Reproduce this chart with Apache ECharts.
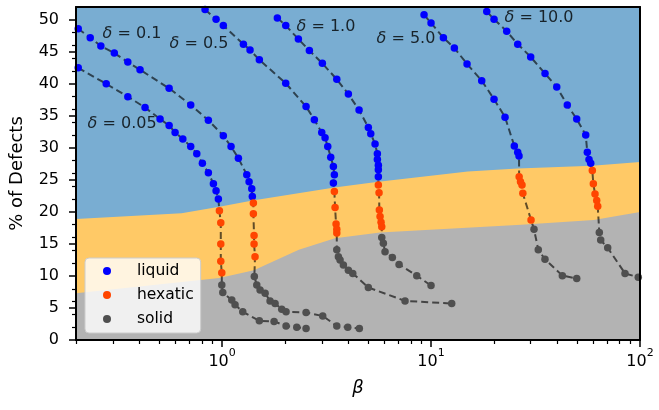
<!DOCTYPE html>
<html><head><meta charset="utf-8">
<script src="https://cdn.jsdelivr.net/npm/echarts@6/dist/echarts.min.js"></script>
<style>html,body{margin:0;padding:0;background:#fff}#c{width:659px;height:410px}</style>
</head><body><div id="c"></div>
<script>
// ---------- axis ranges and ticks ----------
const X_MIN = 0.2, X_MAX = 100, Y_MIN = 0, Y_MAX = 52;
const xMajorTicks = [1, 10, 100];
const xMinorTicks = [0.2,0.3,0.4,0.5,0.6,0.7,0.8,0.9,2,3,4,5,6,7,8,9,20,30,40,50,60,70,80,90];
const yMajorTicks = [0,5,10,15,20,25,30,35,40,45,50];

// ---------- phase-region boundaries  [beta, % of defects] ----------
const hexaticUpper = [[0.2,18.9],[0.64,19.8],[0.97,20.8],[1.4,21.8],[3.45,23.8],[5.6,24.7],[15,26.3],[26,26.8],[59,27.2],[100,27.8]];
const solidUpper   = [[0.2,7.3],[0.97,9.7],[1.42,10.9],[2.33,14.1],[3.47,15.9],[5.7,16.8],[27,18.0],[60,18.75],[100,20.0]];

// ---------- curves  [beta, % of defects] ----------
const liquid_005  = [[0.205,42.5],[0.279,40.0],[0.354,38.0],[0.428,36.3],[0.505,34.5],[0.558,33.5],[0.596,32.4],[0.649,31.4],[0.708,30.2],[0.757,29.1],[0.805,27.6],[0.86,26.1],[0.909,24.4],[0.936,23.3],[0.96,22.0]];
const hexatic_005 = [[0.971,20.2],[0.986,18.3],[0.986,15.0],[0.986,12.3],[0.997,10.5]];
const solid_005   = [[0.997,8.6],[1.008,7.4],[1.113,6.25],[1.154,5.5],[1.256,4.4],[1.508,3.0],[1.774,2.9],[2.024,2.2],[2.278,2.0],[2.523,1.8]];

const liquid_01  = [[0.205,48.6],[0.234,47.2],[0.263,45.9],[0.305,44.8],[0.354,43.4],[0.405,42.2],[0.558,39.3],[0.708,36.7],[0.86,34.3],[1.014,31.9],[1.104,30.2],[1.197,28.4],[1.313,25.8],[1.347,24.7],[1.387,23.6],[1.396,22.4]];
const hexatic_01 = [[1.412,21.4],[1.412,19.7],[1.423,16.3],[1.423,15.0],[1.438,13.0]];
const solid_01   = [[1.427,9.9],[1.466,8.6],[1.52,7.8],[1.607,7.3],[1.697,6.1],[1.793,5.7],[1.93,4.8],[2.024,4.4],[2.523,4.3],[3.032,3.75],[3.54,2.2],[3.995,2.0],[4.539,1.8]];

const liquid_05  = [[0.829,51.6],[0.936,50.1],[1.014,49.1],[1.265,46.2],[1.361,45.3],[1.508,43.75],[2.017,40.1],[2.523,36.45],[2.765,34.4],[2.999,32.4],[3.111,31.6],[3.205,30.2],[3.312,28.55],[3.409,27.1],[3.447,25.8],[3.409,24.5]];
const hexatic_05 = [[3.447,23.2],[3.474,20.7],[3.512,18.1],[3.54,17.3],[3.54,16.7]];
const solid_05   = [[3.54,14.1],[3.603,13.0],[3.67,12.5],[3.806,11.7],[4.022,10.9],[4.222,10.4],[5.012,8.2],[7.509,6.1],[12.56,5.7]];

const liquid_1  = [[1.839,50.3],[2.017,49.1],[2.318,47.0],[2.617,45.2],[3.019,43.2],[3.54,40.7],[4.022,38.4],[4.525,35.9],[5.012,33.2],[5.147,32.2],[5.397,30.6],[5.536,29.1],[5.536,28.2],[5.596,27.3],[5.596,26.6],[5.596,25.5]];
const hexatic_1 = [[5.596,24.2],[5.64,23.0],[5.658,20.3],[5.702,19.3],[5.766,18.4],[5.81,17.7]];
const solid_1   = [[5.81,16.0],[5.914,15.1],[6.025,13.8],[6.53,12.9],[7.03,11.8],[8.544,10.05],[10.0,8.5]];

const liquid_5  = [[9.26,50.8],[10.0,49.5],[11.46,47.2],[12.93,45.6],[14.87,43.1],[17.48,40.5],[20.02,37.6],[22.6,34.8],[25.04,30.3],[25.99,29.3],[26.37,28.75]];
const hexatic_5 = [[26.4,25.5],[26.8,24.7],[27.25,24.2],[27.5,22.9],[30.1,18.75]];
const solid_5   = [[31.1,17.3],[32.6,14.1],[35.1,12.6],[42.5,10.05],[49.8,9.6]];

const liquid_10  = [[18.48,51.3],[20.02,50.1],[23.02,48.2],[25.99,46.2],[29.99,44.2],[35.12,41.6],[39.96,39.5],[44.88,36.7],[49.79,34.5],[54.99,32.0],[55.96,29.3],[57.02,28.2],[58.1,27.6]];
const hexatic_10 = [[59.14,26.45],[59.8,24.4],[60.92,22.8],[62.07,21.8],[62.76,20.9]];
const solid_10   = [[63.87,16.8],[64.86,15.6],[70.05,14.4],[84.76,10.4],[98.1,9.8]];

// ---------- curve annotations ----------
const deltaNames = ['0.05','0.1','0.5','1.0','5.0','10.0'];
const labelBeta  = [0.2285,0.2696,0.5638,2.285,5.515,22.6];
const labelPct   = [33.6,47.8,46.2,48.9,47.0,50.3];

// ---------- build ----------
const curves = [
  [liquid_005, hexatic_005, solid_005],
  [liquid_01, hexatic_01, solid_01],
  [liquid_05, hexatic_05, solid_05],
  [liquid_1, hexatic_1, solid_1],
  [liquid_5, hexatic_5, solid_5],
  [liquid_10, hexatic_10, solid_10]
];
const FONT = 'DejaVu Sans';
const series = [];
series.push({type:'line', name:'_hex', xAxisIndex:0, yAxisIndex:0, data:hexaticUpper, showSymbol:false, symbol:'none',
  lineStyle:{width:0}, areaStyle:{color:'#ffc966', opacity:1, origin:'start'}, z:1, silent:true});
series.push({type:'line', name:'_sol', xAxisIndex:0, yAxisIndex:0, data:solidUpper, showSymbol:false, symbol:'none',
  lineStyle:{width:0}, areaStyle:{color:'#b3b3b3', opacity:1, origin:'start'}, z:1.5, silent:true});
curves.forEach((c, i) => {
  series.push({type:'line', name:'_curve'+i, xAxisIndex:0, yAxisIndex:0, data:[].concat(c[0], c[1], c[2]),
    showSymbol:false, symbol:'none', lineStyle:{color:'#000', opacity:0.62, width:2, type:[7,4]}, z:2, silent:true});
});
const phaseNames = ['liquid','hexatic','solid'];
const phaseColors = ['#0000ff','#ff4500','#4f4f4f'];
phaseNames.forEach((n, k) => {
  series.push({type:'scatter', name:n, xAxisIndex:0, yAxisIndex:0, symbol:'circle', symbolSize:7.5,
    data:[].concat(...curves.map(c => c[k])), itemStyle:{color:phaseColors[k], opacity:1}, z:3});
});
series.push({type:'scatter', name:'_labels', xAxisIndex:0, yAxisIndex:0, symbolSize:1, silent:true, z:6,
  itemStyle:{color:'transparent'},
  data: deltaNames.map((t,i) => ({value:[labelBeta[i], labelPct[i]], name:t})),
  label:{show:true, position:[0,0], align:'left', verticalAlign:'middle', color:'#000', fontSize:16, fontFamily:FONT,
    formatter: p => '{d|δ} = ' + p.name,
    rich:{d:{fontStyle:'italic', fontSize:16, fontFamily:FONT, color:'#000'}}}});

const lg = v => Math.log10(v);
const spine = {show:true, onZero:false, lineStyle:{color:'#000', width:2}};
const option = {
  animation:false,
  textStyle:{fontFamily:FONT},
  grid:{left:76, right:19, top:7, bottom:70, show:true, backgroundColor:'#79add2', borderWidth:0, containLabel:false, outerBoundsMode:'none'},
  legend:{data:phaseNames, orient:'vertical', left:85, top:258, icon:'circle', itemWidth:40, itemHeight:8, itemGap:8,
    padding:[5,7,6,18], backgroundColor:'rgba(255,255,255,0.8)', borderColor:'#cccccc', borderWidth:1, borderRadius:4,
    textStyle:{fontSize:15.5, color:'#000', fontFamily:FONT, padding:[0,0,0,5]}, z:20, selectedMode:false},
  xAxis:[
    {type:'log', logBase:10, min:X_MIN, max:X_MAX, position:'top', z:10,
      axisLine:spine, axisTick:{show:false}, axisLabel:{show:false}, splitLine:{show:false}},
    {type:'value', min:lg(X_MIN), max:lg(X_MAX), position:'bottom', z:10,
      name:'β', nameLocation:'middle', nameGap:39, nameMoveOverlap:false,
      nameTextStyle:{fontSize:18, fontStyle:'italic', color:'#000', fontFamily:FONT},
      axisLine:spine,
      axisTick:{show:true, length:7, lineStyle:{color:'#000', width:1.5}, customValues:xMajorTicks.map(lg)},
      axisLabel:{show:true, margin:8, customValues:xMajorTicks.map(lg), color:'#000',
        formatter: v => '{b|10}{s|' + Math.round(v) + '}',
        rich:{b:{fontSize:16, fontFamily:FONT, color:'#000', lineHeight:22, verticalAlign:'bottom'},
              s:{fontSize:11, fontFamily:FONT, color:'#000', lineHeight:14, verticalAlign:'top'}}},
      splitLine:{show:false}},
    {type:'value', min:lg(X_MIN), max:lg(X_MAX), position:'bottom', z:10,
      axisLine:{show:false, onZero:false},
      axisTick:{show:true, length:4, lineStyle:{color:'#000', width:1.2}, customValues:xMinorTicks.map(lg)},
      axisLabel:{show:false}, splitLine:{show:false}}
  ],
  yAxis:[
    {type:'value', min:Y_MIN, max:Y_MAX, position:'left', z:10,
      name:'% of Defects', nameLocation:'middle', nameGap:50, nameMoveOverlap:false,
      nameTextStyle:{fontSize:18, color:'#000', fontFamily:FONT},
      axisLine:spine,
      axisTick:{show:true, length:7, lineStyle:{color:'#000', width:1.5}, customValues:yMajorTicks},
      minorTick:{show:true, splitNumber:5, length:4, lineStyle:{color:'#000', width:1.2}},
      axisLabel:{show:true, margin:17, fontSize:16, color:'#000', fontFamily:FONT, customValues:yMajorTicks},
      splitLine:{show:false}, minorSplitLine:{show:false}},
    {type:'value', min:Y_MIN, max:Y_MAX, position:'right', z:10,
      axisLine:spine, axisTick:{show:false}, axisLabel:{show:false}, splitLine:{show:false}}
  ],
  series: series
};
const chart = echarts.init(document.getElementById('c'), null, {renderer:'canvas'});
chart.setOption(option);
</script></body></html>
